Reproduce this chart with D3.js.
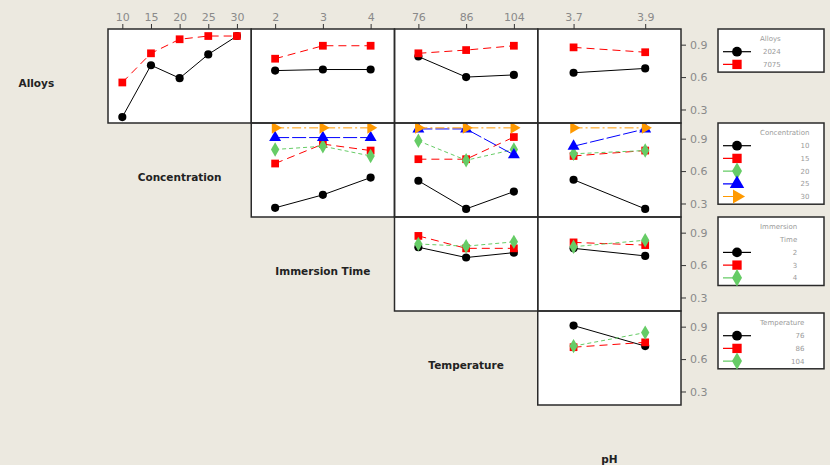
<!DOCTYPE html>
<html>
<head>
<meta charset="utf-8">
<script src="https://cdn.jsdelivr.net/npm/d3@7/dist/d3.min.js"></script>
<style>
  body { margin: 0; background: #ece9e0; }
  svg { display: block; }
</style>
</head>
<body>
<svg id="chart" width="830" height="465"></svg>
<script>
// factor levels
const alloyLevels = ["2024", "7075"];
const concLevels = ["10", "15", "20", "25", "30"];
const timeLevels = ["2", "3", "4"];
const tempLevels = ["76", "86", "104"];
const phLevels = ["3.7", "3.9"];
const yTicks = [0.3, 0.6, 0.9];

// mean response: one row per level of the row factor, one value per level of the column factor
const alloysByConc = [[0.23, 0.71, 0.59, 0.81, 0.98], [0.55, 0.82, 0.95, 0.98, 0.98]];
const alloysByTime = [[0.66, 0.67, 0.67], [0.77, 0.89, 0.89]];
const alloysByTemp = [[0.79, 0.60, 0.62], [0.82, 0.85, 0.89]];
const alloysByPh = [[0.64, 0.68], [0.875, 0.83]];
const concByTime = [[0.26, 0.38, 0.54], [0.67, 0.85, 0.79], [0.80, 0.83, 0.74], [0.91, 0.91, 0.91], [1.0, 1.0, 1.0]];
const concByTemp = [[0.51, 0.25, 0.41], [0.71, 0.71, 0.915], [0.88, 0.70, 0.80], [0.99, 0.99, 0.75], [1.0, 1.0, 1.0]];
const concByPh = [[0.52, 0.25], [0.74, 0.79], [0.76, 0.79], [0.83, 0.99], [1.0, 1.0]];
const timeByTemp = [[0.765, 0.67, 0.715], [0.87, 0.755, 0.755], [0.795, 0.775, 0.815]];
const timeByPh = [[0.755, 0.685], [0.81, 0.785], [0.77, 0.83]];
const tempByPh = [[0.91, 0.72], [0.71, 0.755], [0.72, 0.845]];

const rowFactors = [
    { name: "Alloys", title: ["Alloys"], levels: alloyLevels },
    { name: "Concentration", title: ["Concentration"], levels: concLevels },
    { name: "Immersion Time", title: ["Immersion", "Time"], levels: timeLevels },
    { name: "Temperature", title: ["Temperature"], levels: tempLevels }
];
const colLevels = [concLevels, timeLevels, tempLevels, phLevels];

const panels = [
    { row: 0, col: 0, values: alloysByConc },
    { row: 0, col: 1, values: alloysByTime },
    { row: 0, col: 2, values: alloysByTemp },
    { row: 0, col: 3, values: alloysByPh },
    { row: 1, col: 1, values: concByTime },
    { row: 1, col: 2, values: concByTemp },
    { row: 1, col: 3, values: concByPh },
    { row: 2, col: 2, values: timeByTemp },
    { row: 2, col: 3, values: timeByPh },
    { row: 3, col: 3, values: tempByPh }
];

// series styles (minitab-like)
const colors = ["#000000", "#ff0000", "#66cc66", "#0000ff", "#ff9900"];
const dashes = [null, "8,5", "4,3", "14,3", "9,3,2,3"];
const symbols = [d3.symbolCircle, d3.symbolSquare, d3.symbolDiamond, d3.symbolTriangle, d3.symbolTriangle];
const symSize = [52, 60, 60, 62, 58];
const symRot = [0, 0, 0, 0, 90];

const svg = d3.select("#chart");
const x0 = 108, y0 = 29;
const cellW = 143.25, cellH = 94;

const y = d3.scaleLinear().domain([0.175, 1.045]).range([cellH, 0]);

const xScale = col => d3.scalePoint().domain(colLevels[col]).range([0, cellW]).padding(0.5);

const drawMarker = (sel, s, scale) => {
    sel.attr("d", d3.symbol().type(symbols[s]).size(symSize[s] * scale))
        .attr("fill", colors[s]);
};

// panels
panels.forEach(p => {
    const g = svg.append("g")
        .attr("transform", "translate(" + (x0 + p.col * cellW) + "," + (y0 + p.row * cellH) + ")");
    g.append("rect")
        .attr("width", cellW).attr("height", cellH)
        .attr("fill", "#fff");
    const x = xScale(p.col);
    const line = d3.line()
        .x((d, i) => x(colLevels[p.col][i]))
        .y(d => y(d));
    p.values.forEach((vals, s) => {
        g.append("path")
            .datum(vals)
            .attr("d", line)
            .attr("fill", "none")
            .attr("stroke", colors[s])
            .attr("stroke-width", 1)
            .attr("stroke-dasharray", dashes[s]);
    });
    p.values.forEach((vals, s) => {
        g.selectAll(".m" + s)
            .data(vals)
            .enter().append("path")
            .attr("class", "m" + s)
            .attr("transform", (d, i) => "translate(" + x(colLevels[p.col][i]) + "," + y(d) + ") rotate(" + symRot[s] + ")")
            .call(drawMarker, s, 1);
    });
});

// borders drawn on top
panels.forEach(p => {
    svg.append("rect")
        .attr("x", x0 + p.col * cellW).attr("y", y0 + p.row * cellH)
        .attr("width", cellW).attr("height", cellH)
        .attr("fill", "none")
        .attr("stroke", "#2a2a2a")
        .attr("stroke-width", 1.5);
});

// top axes
colLevels.forEach((lv, col) => {
    const ax = svg.append("g")
        .attr("transform", "translate(" + (x0 + col * cellW) + "," + y0 + ")")
        .call(d3.axisTop(xScale(col)).tickSize(5).tickPadding(3));
    ax.select(".domain").remove();
    ax.selectAll("line").attr("stroke", "#333");
    ax.selectAll("text")
        .attr("fill", "#8a8a8a")
        .style("font-family", "DejaVu Sans")
        .style("font-size", "11px");
});

// right axes
rowFactors.forEach((rf, row) => {
    const ax = svg.append("g")
        .attr("transform", "translate(" + (x0 + 4 * cellW) + "," + (y0 + row * cellH) + ")")
        .call(d3.axisRight(y).tickValues(yTicks).tickFormat(d3.format(".1f")).tickSize(5).tickPadding(4));
    ax.select(".domain").remove();
    ax.selectAll("line").attr("stroke", "#333");
    ax.selectAll("text")
        .attr("fill", "#8a8a8a")
        .style("font-family", "DejaVu Sans")
        .style("font-size", "11px");
});

// factor labels along the diagonal
const labels = ["Alloys", "Concentration", "Immersion Time", "Temperature", "pH"];
labels.forEach((name, i) => {
    svg.append("text")
        .attr("x", x0 + (i - 0.5) * cellW)
        .attr("y", y0 + i * cellH + 54)
        .attr("dy", "0.35em")
        .attr("text-anchor", "middle")
        .style("font-family", "DejaVu Sans")
        .style("font-weight", "bold")
        .style("font-size", "10.5px")
        .attr("fill", "#222")
        .text(name);
});

// legends
const legX = 718, legW = 106, lineH = 12.7;
rowFactors.forEach((rf, row) => {
    const top = y0 + row * cellH + (row === 3 ? 2 : 0);
    const nLines = rf.title.length + rf.levels.length;
    const g = svg.append("g");
    g.append("rect")
        .attr("x", legX).attr("y", top)
        .attr("width", legW).attr("height", nLines * lineH + 5)
        .attr("fill", "#fff")
        .attr("stroke", "#2a2a2a")
        .attr("stroke-width", 1.5);

    const txt = g.append("g")
        .style("font-family", "DejaVu Sans")
        .style("font-size", "7px")
        .attr("fill", "#9a9a9a");

    const titleNodes = rf.title.map((t, i) => txt.append("text")
        .attr("y", top + 10 + i * lineH)
        .attr("dy", "0.35em")
        .attr("text-anchor", "end")
        .text(t));
    const maxW = d3.max(titleNodes, n => n.node().getComputedTextLength());
    const right = 760 + maxW;
    titleNodes.forEach(n => n.attr("x", right));

    rf.levels.forEach((lv, s) => {
        const cy = top + 10 + (rf.title.length + s) * lineH;
        g.append("line")
            .attr("x1", 723).attr("x2", 751)
            .attr("y1", cy).attr("y2", cy)
            .attr("stroke", colors[s])
            .attr("stroke-width", 1.2)
            .attr("stroke-dasharray", s === 0 ? null : "10,3,1,20");
        g.append("path")
            .attr("transform", "translate(737," + cy + ") rotate(" + symRot[s] + ")")
            .call(drawMarker, s, 1.45);
        txt.append("text")
            .attr("x", right)
            .attr("y", cy)
            .attr("dy", "0.35em")
            .attr("text-anchor", "end")
            .text(lv);
    });
});
</script>
</body>
</html>
